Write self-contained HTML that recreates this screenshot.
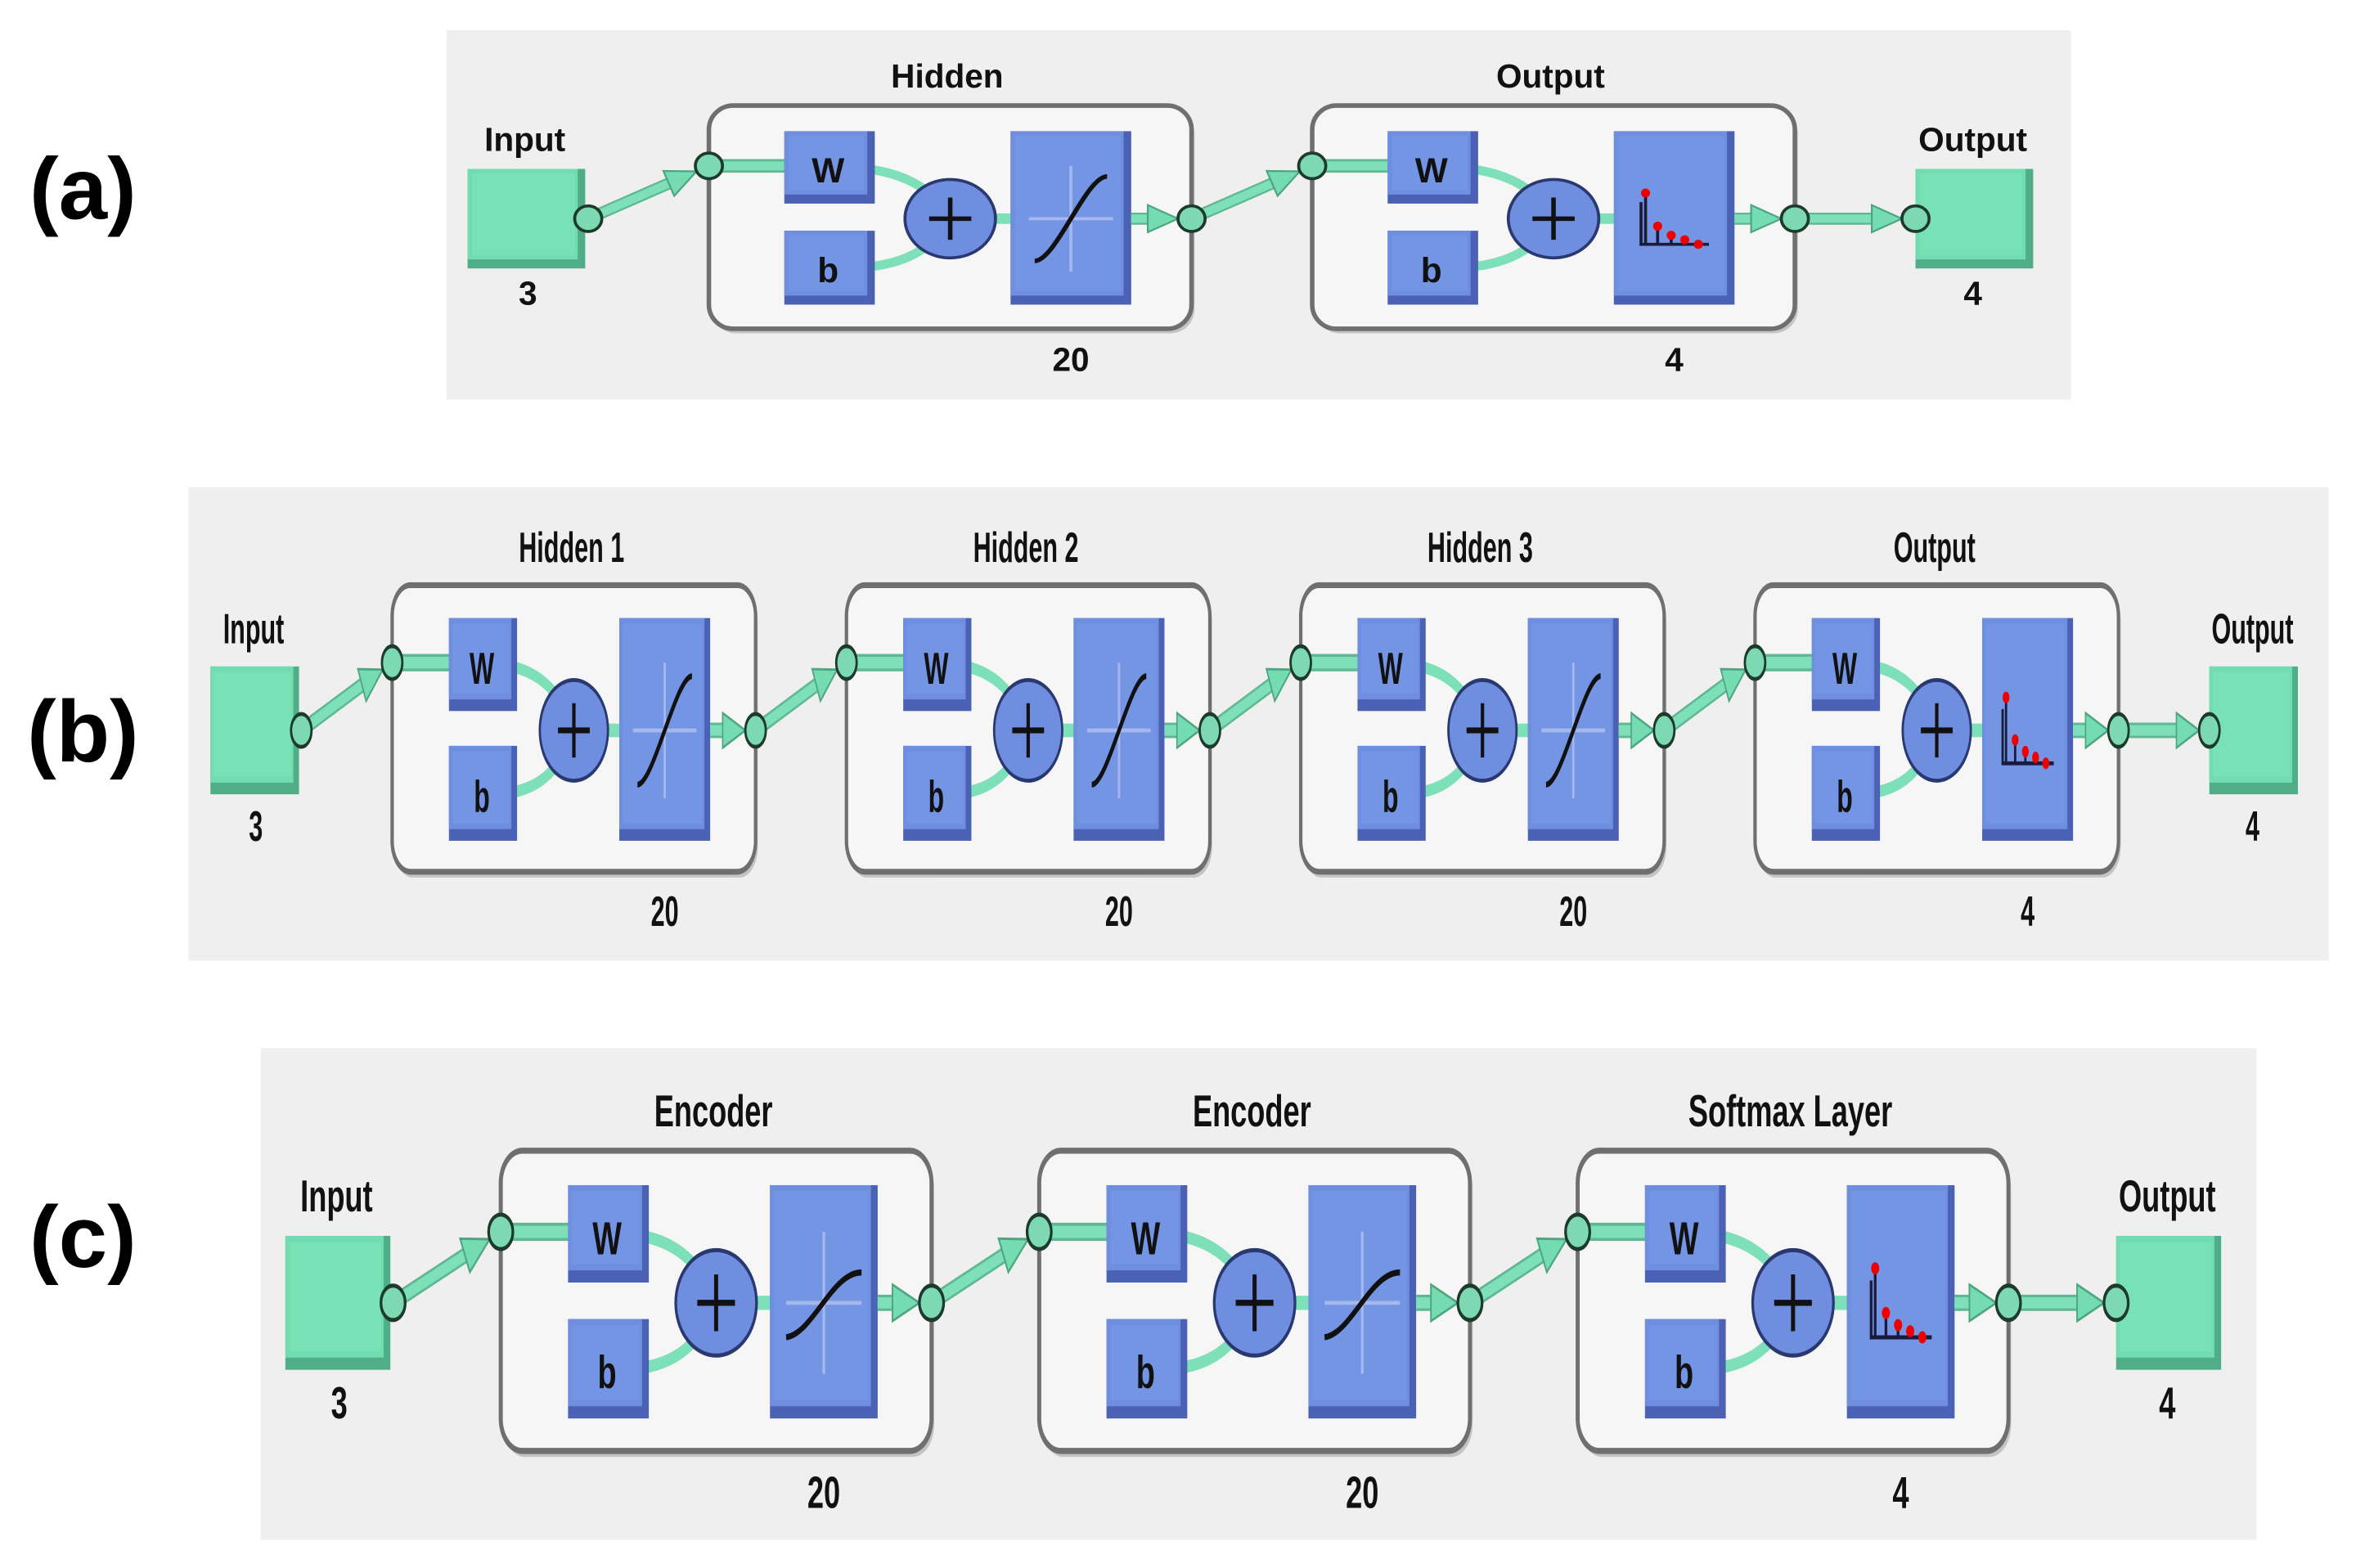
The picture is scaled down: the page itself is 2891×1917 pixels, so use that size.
<!DOCTYPE html>
<html><head><meta charset="utf-8"><style>
html,body{margin:0;padding:0;background:#fff;width:2891px;height:1917px;overflow:hidden}
svg{display:block}
</style></head><body>
<svg id="s" width="2891" height="1917" viewBox="0 0 1568 1039.7" preserveAspectRatio="none" xmlns="http://www.w3.org/2000/svg"></svg>
<script>
var G='#72deb2',GD='#4fae88',BL='#6f8ee0',BD='#4b62b4',LN='#7ee0b8';
function circ(x,y){return '<ellipse cx="'+x+'" cy="'+y+'" rx="9" ry="8.5" fill="#7cd9b2" stroke="#1d3a2c" stroke-width="2"/>';}
function arrowLine(x1,y1,x2,y2){
  var dx=x2-x1,dy=y2-y1,l=Math.sqrt(dx*dx+dy*dy),ux=dx/l,uy=dy/l;
  var ex=x2-ux*9,ey=y2-uy*9; // stop at circle edge
  var bx=ex-ux*20,by=ey-uy*20,px=-uy,py=ux;
  var s='<line x1="'+x1+'" y1="'+y1+'" x2="'+bx+'" y2="'+by+'" stroke="#5fb893" stroke-width="8"/>';
  s+='<line x1="'+x1+'" y1="'+y1+'" x2="'+bx+'" y2="'+by+'" stroke="'+LN+'" stroke-width="5.5"/>';
  s+='<polygon points="'+ex+','+ey+' '+(bx+px*9)+','+(by+py*9)+' '+(bx-px*9)+','+(by-py*9)+'" fill="#74dcb0" stroke="#4fa583" stroke-width="1.2"/>';
  return s;
}
function blue(x,y,w,h){
  return '<rect x="'+x+'" y="'+y+'" width="'+w+'" height="'+h+'" fill="'+BD+'"/>'+
  '<rect x="'+x+'" y="'+y+'" width="'+(w-5)+'" height="'+(h-6)+'" fill="'+BL+'"/>'+
  '<rect x="'+(x+3)+'" y="'+(y+3)+'" width="'+(w-10)+'" height="'+(h-12)+'" fill="#7494e4"/>';
}
function green(x,y,w,h){
  return '<rect x="'+x+'" y="'+y+'" width="'+w+'" height="'+h+'" fill="'+GD+'"/>'+
  '<rect x="'+x+'" y="'+y+'" width="'+(w-5)+'" height="'+(h-6)+'" fill="#70dcaf"/>'+
  '<rect x="'+(x+3)+'" y="'+(y+3)+'" width="'+(w-10)+'" height="'+(h-12)+'" fill="#78e2b6"/>';
}
function txt(x,y,t,sz){return '<text x="'+x+'" y="'+y+'" font-family="Liberation Sans, DejaVu Sans, sans-serif" font-weight="bold" font-size="'+sz+'" text-anchor="middle" fill="#111">'+t+'</text>';}
function layer(L,title,num,kind){
  var s='';
  s+='<rect x="'+(L+2)+'" y="3" width="320" height="148" rx="16" fill="#9a9a9a" opacity="0.5"/>';
  s+='<rect x="'+L+'" y="0" width="320" height="148" rx="16" fill="#f6f6f6" stroke="#6f6f6f" stroke-width="3"/>';
  s+=txt(L+158,-12,title,22);
  s+=txt(L+240,176,num,22);
  // wires
  s+='<path d="M'+L+',40 L'+(L+55)+',40" stroke="#5fb893" stroke-width="9" fill="none"/><path d="M'+L+',40 L'+(L+55)+',40" stroke="'+LN+'" stroke-width="6" fill="none"/>';
  s+='<path d="M'+(L+105)+',42 Q'+(L+135)+',46 '+(L+150)+',62" stroke="'+LN+'" stroke-width="6" fill="none"/>';
  s+='<path d="M'+(L+105)+',107 Q'+(L+135)+',104 '+(L+150)+',88" stroke="'+LN+'" stroke-width="6" fill="none"/>';
  s+='<path d="M'+(L+185)+',75 L'+(L+205)+',75" stroke="'+LN+'" stroke-width="7" fill="none"/>';
  s+=blue(L+50,17,60,48)+txt(L+79,51,'W',23);
  s+=blue(L+50,83,60,49)+txt(L+79,117,'b',23);
  s+='<ellipse cx="'+(L+160)+'" cy="75" rx="30" ry="26" fill="'+BL+'" stroke="#2a3870" stroke-width="2"/>';
  s+='<path d="M'+(L+146)+',75 h28 M'+(L+160)+',61 v28" stroke="#111" stroke-width="3"/>';
  s+=blue(L+200,17,80,115);
  var cx=L+240;
  if(kind==='sm'){
    s+='<path d="M'+(L+218)+',64 v28 h45" stroke="#1a1a3a" stroke-width="2" fill="none"/>';
    var hs=[[L+221,58],[L+229,80],[L+238,86],[L+247,89],[L+256,92]];
    hs.forEach(function(h){s+='<line x1="'+h[0]+'" y1="'+h[1]+'" x2="'+h[0]+'" y2="92" stroke="#1a1a3a" stroke-width="2"/><circle cx="'+h[0]+'" cy="'+h[1]+'" r="3" fill="#e00"/>';});
  } else {
    s+='<path d="M'+(cx-28)+',75 h56 M'+cx+',40 v70" stroke="#a5b8ee" stroke-width="2"/>';
    if(kind==='tan') s+='<path d="M'+(cx-24)+',103 C'+(cx-10)+',103 '+(cx+10)+',47 '+(cx+24)+',47" stroke="#111" stroke-width="3" fill="none"/>';
    else s+='<path d="M'+(cx-28)+',92 C'+(cx-8)+',90 '+(cx+6)+',60 '+(cx+28)+',60" stroke="#111" stroke-width="3" fill="none"/>';
  }
  s+=arrowLine(L+280,75,L+320,75);
  return s;
}
function panel(tx,ty,sx,sy,layers,nums,kind){
  var n=layers.length,s='<g transform="translate('+tx+','+ty+') scale('+sx+','+sy+')">';
  s+=green(-160,42,78,66)+txt(-122,30,'Input',22)+txt(-120,132,'3',22);
  s+=arrowLine(-80,75,0,40);
  for(var i=0;i<n;i++){
    var L=i*400;
    s+=layer(L,layers[i],nums[i],i===n-1?'sm':kind);
    if(i<n-1) s+=arrowLine(L+320,75,L+400,40);
  }
  var E=(n-1)*400;
  s+=green(E+400,42,78,66)+txt(E+438,30,'Output',22)+txt(E+438,132,'4',22);
  s+=arrowLine(E+320,75,E+400,75);
  for(var i=0;i<n;i++){s+=circ(i*400,40)+circ(i*400+320,75);}
  s+=circ(-80,75)+circ(E+400,75);
  return s+'</g>';
}
var out='';
out+='<rect x="296" y="20" width="1077" height="245" fill="#efefef"/>';
out+='<rect x="125" y="323" width="1419" height="314" fill="#efefef"/>';
out+='<rect x="173" y="695" width="1323" height="326" fill="#efefef"/>';
out+=panel(470,70,1,1,['Hidden','Output'],['20','4'],'tan');
out+=panel(260,388,0.753,1.284,['Hidden 1','Hidden 2','Hidden 3','Output'],['20','20','20','4'],'tan');
out+=panel(332,763,0.8925,1.345,['Encoder','Encoder','Softmax Layer'],['20','20','4'],'log');
out+='<text x="55" y="145" font-family="Liberation Sans, DejaVu Sans, sans-serif" font-weight="bold" font-size="58" text-anchor="middle" fill="#000">(a)</text>';
out+='<text x="55" y="505" font-family="Liberation Sans, DejaVu Sans, sans-serif" font-weight="bold" font-size="58" text-anchor="middle" fill="#000">(b)</text>';
out+='<text x="55" y="840" font-family="Liberation Sans, DejaVu Sans, sans-serif" font-weight="bold" font-size="58" text-anchor="middle" fill="#000">(c)</text>';
document.getElementById('s').innerHTML=out;
</script>
</body></html>
